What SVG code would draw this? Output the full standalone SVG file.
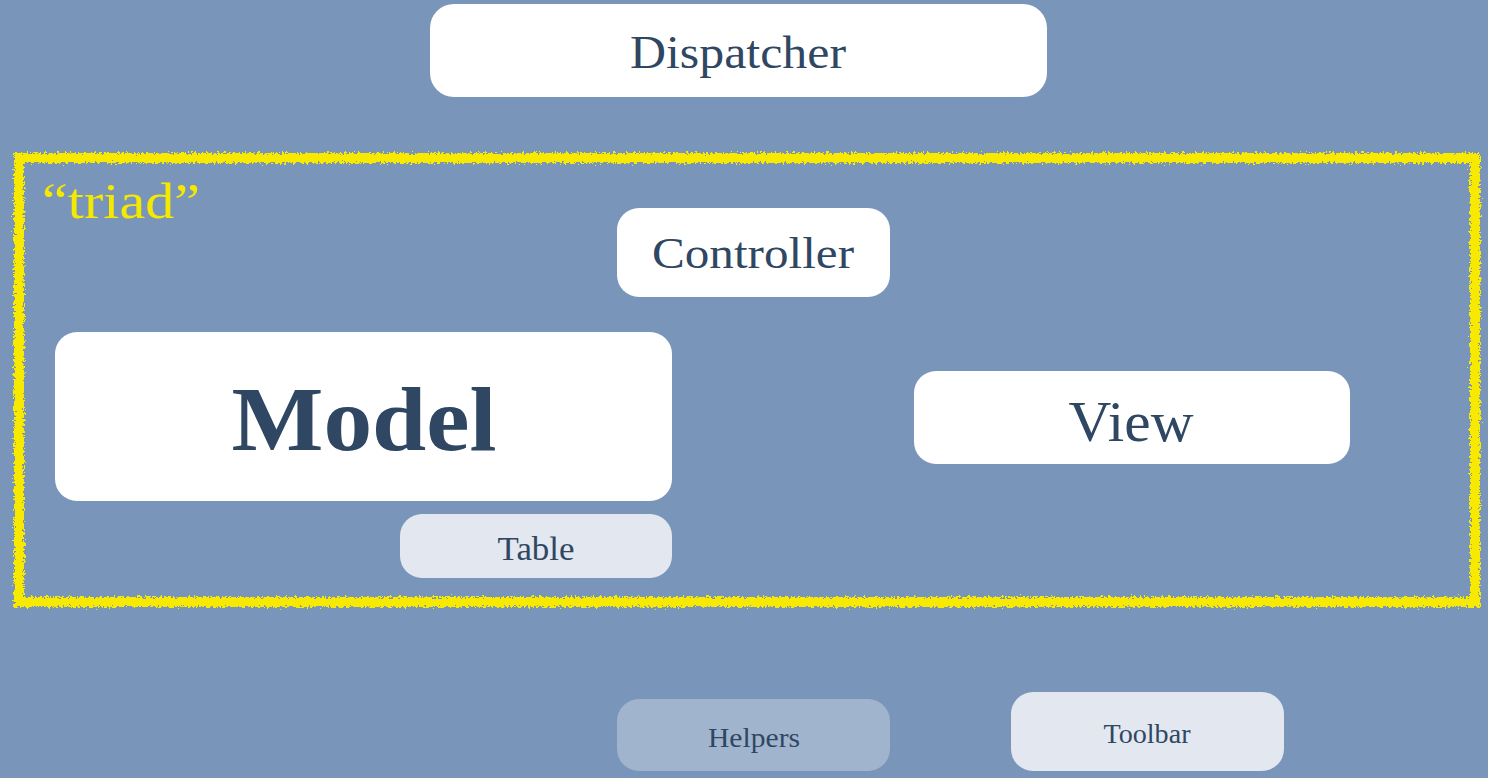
<svg xmlns="http://www.w3.org/2000/svg" width="1488" height="778" viewBox="0 0 1488 778">
<defs>
<style>
.bg{fill:#7995b9}
.w{fill:#ffffff}
.l{fill:#e3e8f0}
.h{fill:#a0b4cd}
.t{font-family:"Liberation Serif","Times New Roman",serif;fill:#2f4762;text-anchor:middle}
.y{font-family:"Liberation Serif","Times New Roman",serif;fill:#f5e900}
</style>
<filter id="rough" x="-5%" y="-5%" width="110%" height="110%">
<feTurbulence type="fractalNoise" baseFrequency="0.45" numOctaves="2" seed="3" result="n"/>
<feDisplacementMap in="SourceGraphic" in2="n" scale="8" xChannelSelector="R" yChannelSelector="G"/>
</filter>
</defs>
<rect class="bg" x="0" y="0" width="1488" height="778"/>
<g id="triad">
<rect x="19" y="158" width="1456" height="444" fill="none" stroke="#f7ea00" stroke-width="10" filter="url(#rough)"/>
<text class="y" x="42" y="218" font-size="50" textLength="158" lengthAdjust="spacingAndGlyphs">“triad”</text>
</g>
<g id="dispatcher">
<rect class="w" x="430" y="4" width="617" height="93" rx="24"/>
<text class="t" x="738" y="68" font-size="46" textLength="216" lengthAdjust="spacingAndGlyphs">Dispatcher</text>
</g>
<g id="controller">
<rect class="w" x="617" y="208" width="273" height="89" rx="22"/>
<text class="t" x="753" y="268" font-size="45" textLength="202" lengthAdjust="spacingAndGlyphs">Controller</text>
</g>
<g id="model">
<rect class="w" x="55" y="332" width="617" height="169" rx="22"/>
<text class="t" x="364" y="450" font-size="92" font-weight="bold" textLength="265" lengthAdjust="spacingAndGlyphs">Model</text>
</g>
<g id="view">
<rect class="w" x="914" y="371" width="436" height="93" rx="22"/>
<text class="t" x="1131" y="441" font-size="56" textLength="125" lengthAdjust="spacingAndGlyphs">View</text>
</g>
<g id="table">
<rect class="l" x="400" y="514" width="272" height="64" rx="22"/>
<text class="t" x="536" y="560" font-size="33" textLength="77" lengthAdjust="spacingAndGlyphs">Table</text>
</g>
<g id="helpers">
<rect class="h" x="617" y="699" width="273" height="72" rx="22"/>
<text class="t" x="754" y="747" font-size="27" textLength="92" lengthAdjust="spacingAndGlyphs">Helpers</text>
</g>
<g id="toolbar">
<rect class="l" x="1011" y="692" width="273" height="79" rx="22"/>
<text class="t" x="1147" y="743" font-size="27" textLength="87" lengthAdjust="spacingAndGlyphs">Toolbar</text>
</g>
<g id="connectors"></g>
</svg>
